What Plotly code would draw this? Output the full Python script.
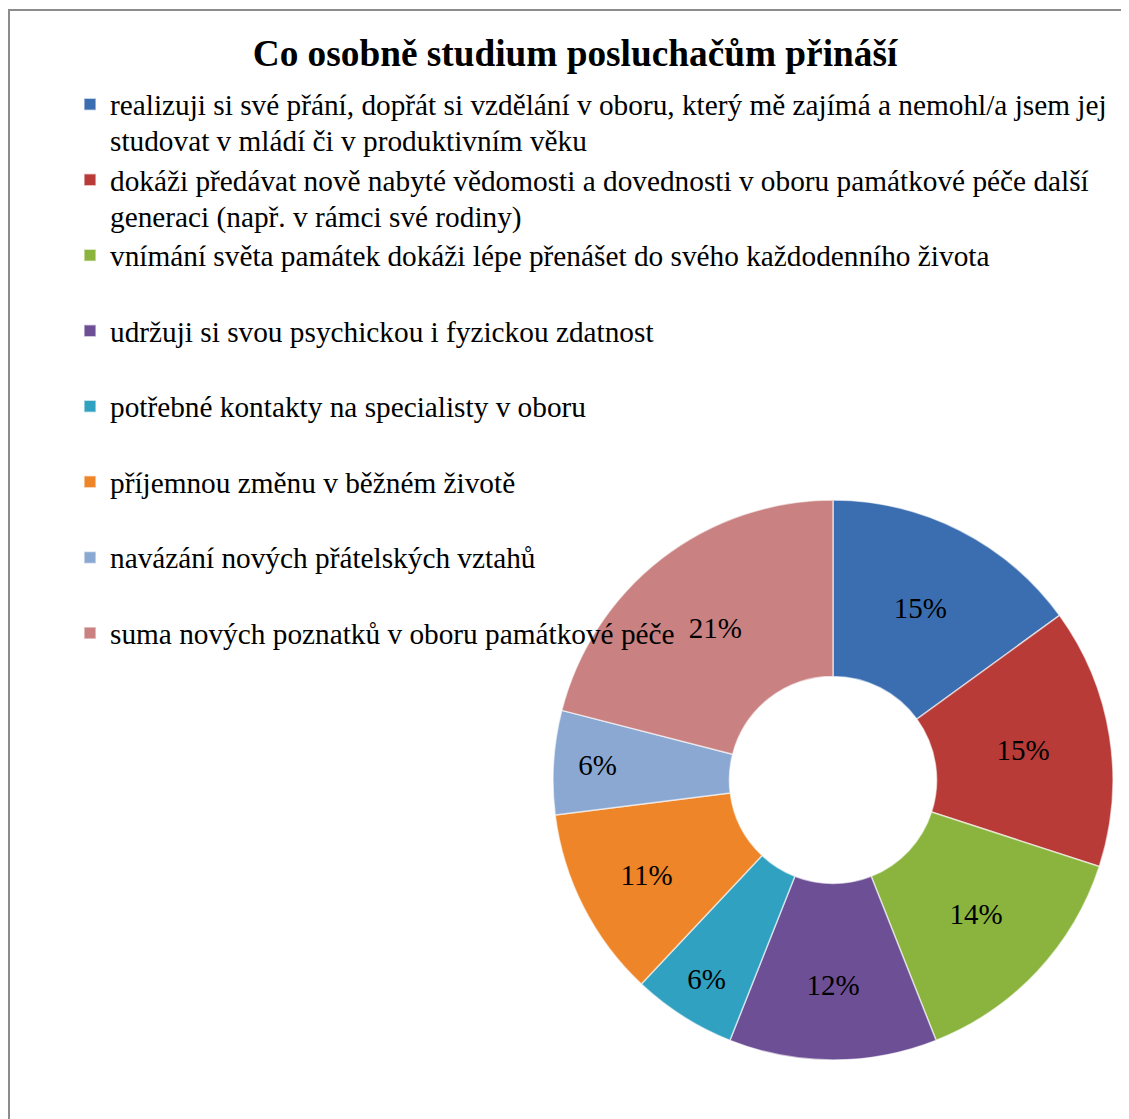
import plotly.graph_objects as go

title = "Co osobně studium posluchačům přináší"
label_lines = [
    ["realizuji si své přání, dopřát si vzdělání v oboru, který mě zajímá a nemohl/a jsem jej",
     "studovat v mládí či v produktivním věku"],
    ["dokáži předávat nově nabyté vědomosti a dovednosti v oboru památkové péče další",
     "generaci (např. v rámci své rodiny)"],
    ["vnímání světa památek dokáži lépe přenášet do svého každodenního života", " "],
    ["udržuji si svou psychickou i fyzickou zdatnost", " "],
    ["potřebné kontakty na specialisty v oboru", " "],
    ["příjemnou změnu v běžném životě", " "],
    ["navázání nových přátelských vztahů", " "],
    ["suma nových poznatků v oboru památkové péče", " "],
]
values = [15, 15, 14, 12, 6, 11, 6, 21]
colors = ["#3a6eb0", "#b83b38", "#8ab43d", "#6d4f95", "#30a1c0", "#ee8528", "#8ba8d2", "#c98181"]

labels = ["<br>".join('<span style="font-size:29.3px">%s</span>' % ln for ln in lines)
          for lines in label_lines]

W, H = 1129, 1119
OFF = 8  # page body margin
cx, cy, R = 833 - OFF, 780 - OFF, 280

fig = go.Figure(go.Pie(
    labels=labels,
    values=values,
    sort=False,
    direction="clockwise",
    rotation=0,
    hole=0.37,
    marker=dict(colors=colors, line=dict(color="rgba(255,255,255,0.6)", width=1.5)),
    textinfo="percent",
    textposition="inside",
    insidetextorientation="horizontal",
    textfont=dict(family="Liberation Serif", size=29, color="black"),
    domain=dict(x=[(cx - R) / W, (cx + R) / W], y=[(H - cy - R) / H, (H - cy + R) / H]),
    hoverinfo="percent+value",
))

fig.update_layout(
    width=W, height=H,
    margin=dict(l=0, r=0, t=0, b=0),
    paper_bgcolor="white",
    font=dict(family="Liberation Serif", color="black"),
    title=dict(text="<b>" + title + "</b>", x=(575 - OFF) / W, xanchor="center",
               y=1 - (53 - OFF) / H, yanchor="middle", yref="container",
               font=dict(family="Liberation Serif", size=37.3, color="black")),
    legend=dict(x=(110 - OFF - 40) / W, xanchor="left", y=1 - (79.5 - OFF) / H, yanchor="top",
                font=dict(family="Liberation Serif", size=27.9, color="black"),
                valign="top", bgcolor="rgba(0,0,0,0)", itemwidth=30,
                tracegroupgap=0),
    uniformtext=dict(minsize=29, mode="show"),
    shapes=[dict(type="rect", xref="paper", yref="paper",
                 x0=1 / W, x1=1.2, y0=-0.2, y1=1 - 2 / H,
                 line=dict(color="#8c8c8c", width=2))],
)

fig.write_html("out.html")
